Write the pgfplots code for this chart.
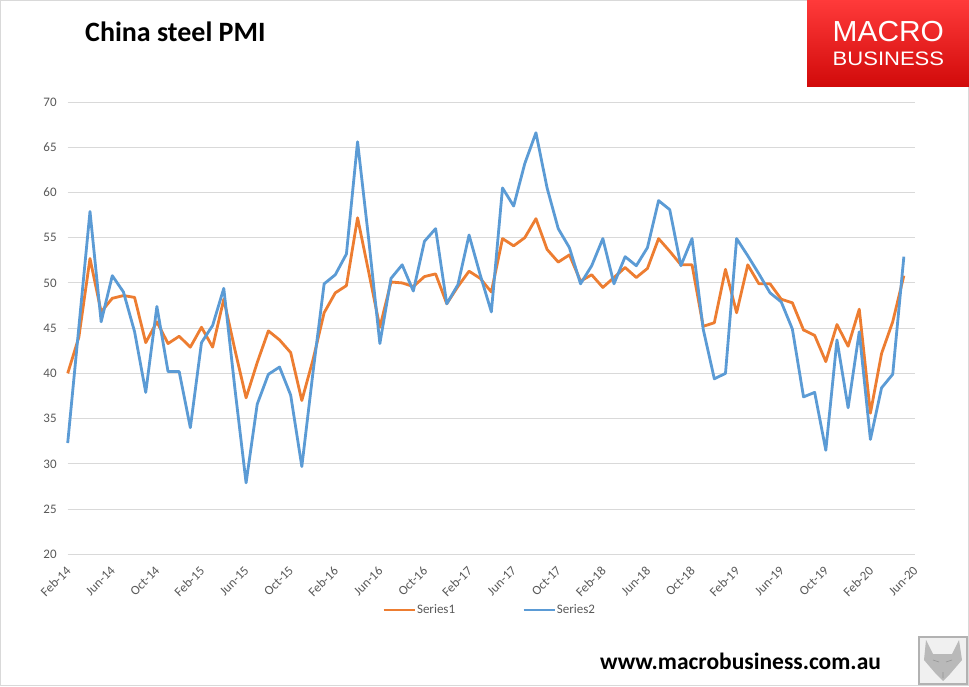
\documentclass[border=0pt]{standalone}
\usepackage{fontspec}
\setmainfont{Carlito}
\newfontfamily\logofont{Liberation Sans}
\usepackage{graphicx}
\usepackage{pgfplots}
\pgfplotsset{compat=1.18}
\usepackage{pgfplotstable}

\definecolor{s1}{HTML}{ED7D31}
\definecolor{s2}{HTML}{5B9BD5}
\definecolor{gridc}{HTML}{D9D9D9}
\definecolor{lab}{HTML}{595959}
\definecolor{logotop}{HTML}{FF3A3A}
\definecolor{logobot}{HTML}{D10A0A}

\pgfplotstableread{
m s1 s2
0 40.0 32.3
1 44.0 45.1
2 52.7 57.9
3 46.8 45.7
4 48.3 50.8
5 48.6 49.0
6 48.4 44.6
7 43.4 37.9
8 45.7 47.4
9 43.3 40.2
10 44.1 40.2
11 42.9 34.0
12 45.1 43.4
13 42.9 45.3
14 48.2 49.4
15 42.6 38.3
16 37.3 27.9
17 41.2 36.6
18 44.7 39.9
19 43.7 40.7
20 42.3 37.6
21 37.0 29.7
22 41.5 40.1
23 46.7 49.9
24 48.9 50.9
25 49.7 53.2
26 57.2 65.6
27 51.2 54.8
28 45.1 43.3
29 50.1 50.5
30 50.0 52.0
31 49.6 49.1
32 50.7 54.6
33 51.0 56.0
34 47.7 47.7
35 49.6 49.8
36 51.3 55.3
37 50.5 50.9
38 49.0 46.8
39 54.9 60.5
40 54.1 58.5
41 55.0 63.2
42 57.1 66.6
43 53.7 60.5
44 52.3 56.0
45 53.1 53.9
46 50.2 49.9
47 50.9 51.9
48 49.5 54.9
49 50.6 49.9
50 51.7 52.9
51 50.6 51.9
52 51.6 53.9
53 54.9 59.1
54 53.5 58.1
55 52.0 51.9
56 52.0 54.9
57 45.2 44.9
58 45.6 39.4
59 51.5 40.0
60 46.7 54.9
61 52.0 53.0
62 49.9 51.0
63 49.9 48.9
64 48.2 47.9
65 47.8 44.9
66 44.8 37.4
67 44.2 37.9
68 41.3 31.5
69 45.4 43.7
70 43.0 36.2
71 47.1 44.6
72 35.6 32.7
73 42.2 38.4
74 45.7 39.9
75 50.8 52.9
}\pmidata

\begin{document}
\begin{tikzpicture}[x=1pt,y=1pt]
\path[use as bounding box] (0,0) rectangle (969,686);
\fill[white] (0,0) rectangle (969,686);
\draw[gridc, line width=1.2pt] (0.6,0.6) rectangle (968.4,685.4);
\begin{axis}[
  at={(67.7pt,131.7pt)}, anchor=south west,
  scale only axis, width=847.3pt, height=452.3pt,
  xmin=0, xmax=76, ymin=20, ymax=70,
  xtick={0,4,...,76},
  xticklabels={Feb-14,Jun-14,Oct-14,Feb-15,Jun-15,Oct-15,Feb-16,Jun-16,Oct-16,Feb-17,Jun-17,Oct-17,Feb-18,Jun-18,Oct-18,Feb-19,Jun-19,Oct-19,Feb-20,Jun-20},
  ytick={20,25,...,70},
  ymajorgrids, major grid style={gridc, line width=1pt},
  axis line style={draw=none}, major tick style={draw=none},
  tick label style={font=\fontsize{13}{15}\selectfont, text=lab},
  yticklabel style={xshift=-7.5pt},
  xticklabel style={xshift=-2.5pt, yshift=-11pt, rotate=45, anchor=north east, inner sep=0pt},
  /pgf/number format/assume math mode=true,
  no markers,
  clip=false,
  legend style={at={(axis description cs:0.371,-0.1231)}, anchor=west, draw=none, fill=none, inner sep=0pt,
    font=\fontsize{13}{15}\selectfont, text=lab, nodes={inner sep=1pt},
    /tikz/every even column/.append style={column sep=66pt}},
  legend columns=2,
  legend image code/.code={\draw[#1] (0pt,0pt) -- (31pt,0pt);},
]
\addplot[s1, line width=2.8pt, line join=round] table[x=m, y=s1] {\pmidata};
\addlegendentry{Series1}
\addplot[s2, line width=2.8pt, line join=round] table[x=m, y=s2] {\pmidata};
\addlegendentry{Series2}
\end{axis}
\node[anchor=base west, inner sep=0pt, font=\fontsize{28}{32}\selectfont\bfseries] at (85,644.3) {China steel PMI};
\shade[top color=logotop, bottom color=logobot] (807,599.3) rectangle (969,686);
\node[anchor=base west, inner sep=0pt, text=white, font=\logofont\fontsize{29}{30}\selectfont] at (832.5,644.3) {\scalebox{1.03}[1]{MACRO}};
\node[anchor=base west, inner sep=0pt, text=white, font=\logofont\fontsize{19.5}{20}\selectfont] at (832.5,620.3) {\scalebox{1.13}[1]{BUSINESS}};
\node[anchor=base west, inner sep=0pt, font=\fontsize{23.5}{26}\selectfont\bfseries] at (600,17) {www.macrobusiness.com.au};
\fill[gray!12] (919,2) rectangle (966.6,49.3);
\fill[gray!55] (926,46) -- (933,32) -- (952,32) -- (959,46) -- (962,26) -- (950,12) -- (943,5) -- (936,12) -- (924,26) -- cycle;
\draw[gray!85, line width=0.6pt] (933,26) -- (939,24) (946,24) -- (952,26) (943,14) -- (943,8);
\draw[gray!60, line width=2pt] (919,2) rectangle (966.6,49.3);
\end{tikzpicture}
\end{document}
